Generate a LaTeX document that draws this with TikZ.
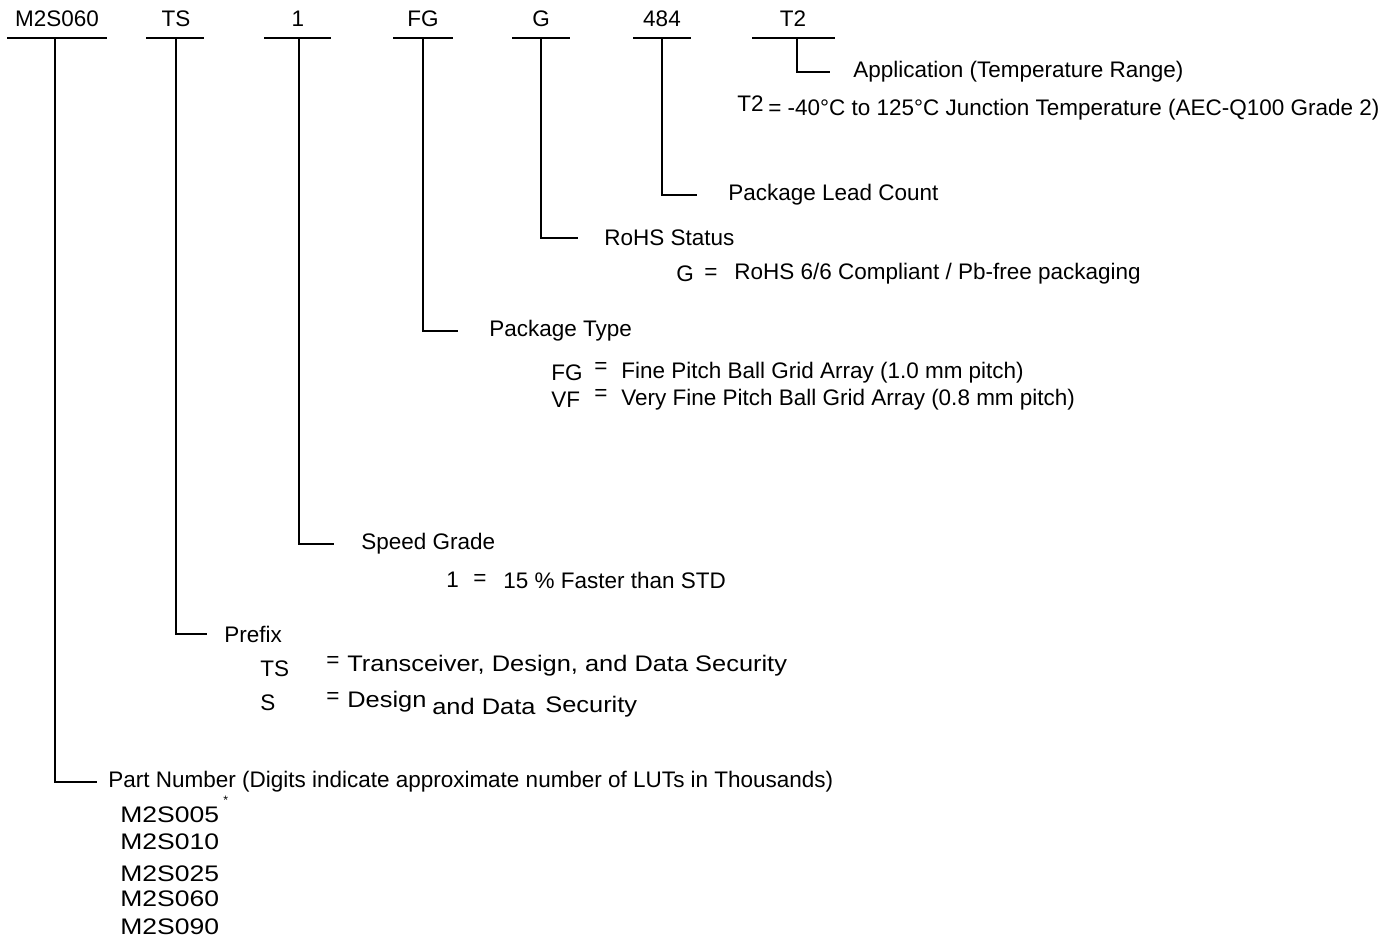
\documentclass[tikz,border=0pt]{standalone}
\usepackage{fontspec}
\setmainfont{Liberation Sans}
\newfontfamily\widefont[FakeStretch=1.13]{Liberation Sans}
\newfontfamily\widerfont[FakeStretch=1.18]{Liberation Sans}
\usetikzlibrary{calc}

\begin{document}
\begin{tikzpicture}[
  x=0.02cm, y=-0.02cm,
  font=\fontsize{12.8}{15}\selectfont,
  field/.style={inner sep=0pt},
  bar/.style={draw=black, line width=1.6pt},
  leader/.style={draw=black, line width=1.1pt},
  desc/.style={anchor=west, inner sep=0pt},
  code/.style={anchor=west, inner sep=0pt},
  widecode/.style={code, font=\widefont\fontsize{12.8}{15}\selectfont},
  partno/.style={code, font=\widerfont\fontsize{12.8}{15}\selectfont}
]
\useasboundingbox (0,0) rectangle (1400,939);

% fields of the ordering code
\foreach \name/\txt/\cx/\bl/\br/\vx in {
  part/M2S060/57/7/107/55,
  prefix/TS/176/146/204/176,
  speed/1/298/264/331/299,
  pkg/FG/423/393/453/423,
  rohs/G/541/512/570/541,
  lead/484/662/633/691/662,
  app/T2/793/752/835/797
}{
  \node[field] (\name) at (\cx,19) {\txt};
  \draw[bar] (\bl,38) -- (\br,38);
  \coordinate (\name-b) at (\vx,38);
}

% descriptions
\node[desc] (dapp) at (853,72) {Application (Temperature Range)};
\node[code] (capp) at (737,104) {T2};
\node[code] (vapp) at (768,110) {= -40°C to 125°C Junction Temperature (AEC-Q100 Grade 2)};

\node[desc] (dlead) at (728,195) {Package Lead Count};

\node[desc] (drohs) at (604,238) {RoHS Status};
\node[code] (crohs) at (676,274) {G};
\node[code] (erohs) at (704,274) {=};
\node[code] (vrohs) at (734,274) {RoHS 6/6 Compliant / Pb-free packaging};

\node[desc] (dpkg) at (489,331) {Package Type};
\node[code] (cfg) at (551,373) {FG};
\node[code] (efg) at (594,368) {=};
\node[code] (vfg) at (621,373) {Fine Pitch Ball Grid Array (1.0 mm pitch)};
\node[code] (cvf) at (551,400) {VF};
\node[code] (evf) at (594,395) {=};
\node[code] (vvf) at (621,400) {Very Fine Pitch Ball Grid Array (0.8 mm pitch)};

\node[desc] (dspeed) at (361,544) {Speed Grade};
\node[code] (cspeed) at (446,580) {1};
\node[code] (espeed) at (473,580) {=};
\node[code] (vspeed) at (503,580) {15 \% Faster than STD};

\node[desc] (dprefix) at (224,634) {Prefix};
\node[code] (cts) at (260,669) {TS};
\node[code] (ets) at (326,662) {=};
\node[widecode] (vts) at (347,666) {Transceiver, Design, and Data Security};
\node[code] (cs) at (260,703) {S};
\node[code] (es) at (326,698) {=};
\node[widecode] (vs1) at (347,702) {Design};
\node[widecode] (vs2) at (432,706) {and Data};
\node[widecode] (vs3) at (545,707) {Security};

\node[desc] (dpart) at (108,782) {Part Number (Digits indicate approximate number of LUTs in Thousands)};
\node[partno] (p005) at (120,815) {M2S005};
\node[code, font=\scriptsize] (star) at (223,800) {*};
\node[partno] (p010) at (120,842) {M2S010};
\node[partno] (p025) at (120,874) {M2S025};
\node[partno] (p060) at (120,899) {M2S060};
\node[partno] (p090) at (120,927) {M2S090};

% leaders
\draw[leader] (app-b) |- ($(dapp.west)+(-23,0)$);
\draw[leader] (lead-b) |- ($(dlead.west)+(-31,0)$);
\draw[leader] (rohs-b) |- ($(drohs.west)+(-26,0)$);
\draw[leader] (pkg-b) |- ($(dpkg.west)+(-31,0)$);
\draw[leader] (speed-b) |- ($(dspeed.west)+(-27,0)$);
\draw[leader] (prefix-b) |- ($(dprefix.west)+(-17,0)$);
\draw[leader] (part-b) |- ($(dpart.west)+(-11,0)$);
\end{tikzpicture}
\end{document}
